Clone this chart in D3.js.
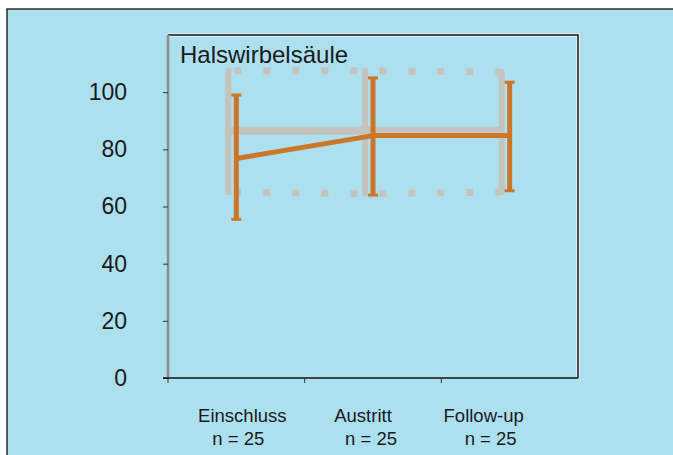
<!DOCTYPE html>
<meta charset="utf-8">
<style>
  body { margin: 0; background: #fff; }
  text { font-family: "Liberation Sans", Arial, sans-serif; fill: #1a1a1a; }
</style>
<body>
<script src="https://cdn.jsdelivr.net/npm/d3@7"></script>
<script>

// categories and labels
var phases = ["Einschluss", "Austritt", "Follow-up"];
var counts = ["n = 25", "n = 25", "n = 25"];
var yTicks = [0, 20, 40, 60, 80, 100];

// orange series (mean with error bars)
var meanA  = [76.8, 84.8, 84.8];
var upperA = [99, 105, 103.5];
var lowerA = [55.5, 64, 65.5];

// grey reference series
var meanB  = [86.5, 86.5, 86.5];
var upperB = [107.5, 107.5, 107];
var lowerB = [65, 64.5, 65];

var W = 673, H = 455;
var plot = {left: 168, right: 578, top: 35, bottom: 378};
var greyCol = "#c4c3bd";

var svg = d3.select("body").append("svg")
    .attr("width", W)
    .attr("height", H);

// page background + frame
svg.append("rect")
    .attr("x", 7).attr("y", 9)
    .attr("width", W).attr("height", H)
    .attr("fill", "#ade0ef")
    .attr("stroke", "#2b2b2b")
    .attr("stroke-width", 1.5);

var x = d3.scaleBand()
    .domain(phases)
    .range([plot.left, plot.right]);

var y = d3.scaleLinear()
    .domain([0, 120])
    .range([plot.bottom, plot.top]);

var cx = function (i) { return x(phases[i]) + x.bandwidth() / 2; };
var gx = function (i) { return cx(i) - 8; };

// plot box (top + right border)
svg.append("path")
    .attr("d", "M" + plot.left + "," + plot.top + "H" + plot.right + "V" + plot.bottom)
    .attr("fill", "none")
    .attr("stroke", "#fff")
    .attr("stroke-width", 3);
svg.append("path")
    .attr("d", "M" + plot.left + "," + plot.top + "H" + plot.right + "V" + plot.bottom)
    .attr("fill", "none")
    .attr("stroke", "#111")
    .attr("stroke-width", 1.5);

// y axis
var gY = svg.append("g")
    .attr("transform", "translate(" + plot.left + ",0)")
    .call(d3.axisLeft(y).tickValues(yTicks).tickSize(5).tickPadding(36));
gY.select(".domain").attr("stroke", "#8c8c88").attr("stroke-width", 2.5)
    .attr("d", "M0," + plot.top + "V" + plot.bottom);
gY.selectAll(".tick line").attr("stroke", "#333");
gY.selectAll(".tick text")
    .style("font-size", "23px")
    .attr("fill", "#1a1a1a");

// x axis
var gX = svg.append("g")
    .attr("transform", "translate(0," + plot.bottom + ")");
gX.append("line")
    .attr("x1", plot.left - 5).attr("x2", plot.right)
    .attr("stroke", "#111").attr("stroke-width", 1.5);
gX.selectAll(".xt")
    .data(phases)
    .enter().append("line")
    .attr("class", "xt")
    .attr("x1", function (d) { return x(d); })
    .attr("x2", function (d) { return x(d); })
    .attr("y1", 0).attr("y2", 5)
    .attr("stroke", "#333");

var labelShift = [6, -10, -26];
var countShift = [2, -2, -19];
gX.selectAll(".xl")
    .data(phases)
    .enter().append("text")
    .attr("class", "xl")
    .attr("x", function (d, i) { return cx(i) + labelShift[i]; })
    .attr("y", 44)
    .attr("text-anchor", "middle")
    .style("font-size", "18.5px")
    .text(function (d) { return d; });
gX.selectAll(".xn")
    .data(counts)
    .enter().append("text")
    .attr("class", "xn")
    .attr("x", function (d, i) { return cx(i) + countShift[i]; })
    .attr("y", 67)
    .attr("text-anchor", "middle")
    .style("font-size", "18.5px")
    .text(function (d) { return d; });

// title
svg.append("text")
    .attr("x", plot.left + 12)
    .attr("y", 63)
    .style("font-size", "24px")
    .text("Halswirbelsäule");

var idx = d3.range(phases.length);

// grey series
var grey = svg.append("g");
var dotted = d3.line()
    .x(function (d) { return gx(d.i); })
    .y(function (d) { return y(d.v); });

[upperB, lowerB].forEach(function (arr) {
  grey.append("path")
      .datum(idx.map(function (i) { return {i: i, v: arr[i]}; }))
      .attr("d", dotted)
      .attr("fill", "none")
      .attr("stroke", greyCol)
      .attr("stroke-width", 7)
      .attr("stroke-dasharray", "0,6,7,16");
});
grey.append("path")
    .datum(idx.map(function (i) { return {i: i, v: meanB[i]}; }))
    .attr("d", dotted)
    .attr("fill", "none")
    .attr("stroke", greyCol)
    .attr("stroke-width", 8);
grey.selectAll(".gbar")
    .data(idx)
    .enter().append("line")
    .attr("x1", gx).attr("x2", gx)
    .attr("y1", function (i) { return y(upperB[i]); })
    .attr("y2", function (i) { return y(lowerB[i]); })
    .attr("stroke", greyCol)
    .attr("stroke-width", 6)
    .attr("stroke-linecap", "round");

// orange series
var orange = "#cc7629";
var og = svg.append("g");
og.append("path")
    .datum(idx)
    .attr("d", d3.line().x(cx).y(function (i) { return y(meanA[i]); }))
    .attr("fill", "none")
    .attr("stroke", orange)
    .attr("stroke-width", 5)
    .attr("stroke-linejoin", "round");
og.selectAll(".obar")
    .data(idx)
    .enter().append("line")
    .attr("x1", cx).attr("x2", cx)
    .attr("y1", function (i) { return y(upperA[i]); })
    .attr("y2", function (i) { return y(lowerA[i]); })
    .attr("stroke", orange)
    .attr("stroke-width", 5);
[upperA, lowerA].forEach(function (arr) {
  og.selectAll(null)
      .data(idx)
      .enter().append("line")
      .attr("x1", function (i) { return cx(i) - 5; })
      .attr("x2", function (i) { return cx(i) + 5; })
      .attr("y1", function (i) { return y(arr[i]); })
      .attr("y2", function (i) { return y(arr[i]); })
      .attr("stroke", orange)
      .attr("stroke-width", 3);
});

</script>
</body>
